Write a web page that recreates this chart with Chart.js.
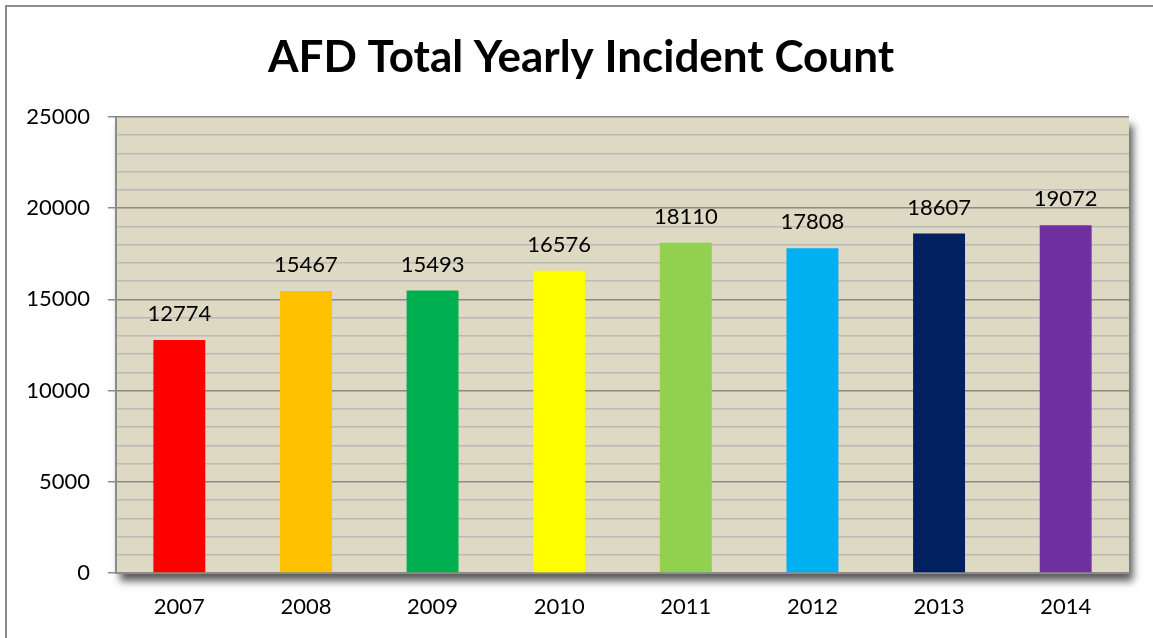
<!DOCTYPE html>
<html>
<head>
<meta charset="utf-8">
<script src="https://cdn.jsdelivr.net/npm/chart.js@4"></script>
<style>
  html, body { margin: 0; padding: 0; background: #fff; }
  #wrap { width: 1153px; height: 638px; position: relative; }
</style>
</head>
<body>
<div id="wrap"><canvas id="incidentChart" width="1153" height="638"></canvas></div>
<script>
const years = ['2007', '2008', '2009', '2010', '2011', '2012', '2013', '2014'];
const incidents = [12774, 15467, 15493, 16576, 18110, 17808, 18607, 19072];
const barColors = ['#FF0000', '#FFC000', '#00B050', '#FFFF00', '#92D050', '#00B0F0', '#002060', '#7030A0'];
const chartTitle = 'AFD Total Yearly Incident Count';
const yMax = 25000;
const yMajorStep = 5000;
const yMinorStep = 1000;

const FONT = 'Lato, "Open Sans", sans-serif';

// plot background + drop shadow + outer frame + title
const plotBackground = {
  id: 'plotBackground',
  beforeDraw(chart) {
    const { ctx, chartArea: a } = chart;
    ctx.save();
    ctx.fillStyle = '#8c8c8c';
    ctx.fillRect(5, 5, 2, chart.height - 5);
    ctx.fillRect(5, 5, chart.width - 5, 2);

    ctx.fillStyle = '#000';
    ctx.font = 'bold 44px ' + FONT;
    ctx.textAlign = 'center';
    ctx.textBaseline = 'middle';
    ctx.fillText(chartTitle, 581, 58);

    ctx.shadowColor = 'rgba(0,0,0,0.65)';
    ctx.shadowBlur = 8;
    ctx.shadowOffsetX = 4;
    ctx.shadowOffsetY = 8;
    ctx.fillStyle = '#DDD9C3';
    ctx.fillRect(a.left, a.top, a.right - a.left, a.bottom - a.top);
    ctx.restore();
  }
};

const valueLabels = {
  id: 'valueLabels',
  afterDatasetsDraw(chart) {
    const { ctx } = chart;
    const meta = chart.getDatasetMeta(0);
    ctx.save();
    ctx.font = '22px ' + FONT;
    ctx.fillStyle = '#000';
    ctx.textAlign = 'center';
    ctx.textBaseline = 'bottom';
    meta.data.forEach((bar, i) => {
      ctx.fillText(String(incidents[i]), bar.x, bar.y - 15);
    });
    ctx.restore();
  }
};

new Chart(document.getElementById('incidentChart').getContext('2d'), {
  type: 'bar',
  data: {
    labels: years,
    datasets: [{
      data: incidents,
      backgroundColor: barColors,
      borderWidth: 0,
      categoryPercentage: 1,
      barPercentage: 0.41
    }]
  },
  options: {
    responsive: false,
    animation: false,
    layout: { padding: { left: 0, right: 24, top: 117, bottom: 0 } },
    plugins: {
      legend: { display: false },
      tooltip: { enabled: false },
      title: { display: false }
    },
    scales: {
      x: {
        afterFit(scale) { scale.height = 65; },
        grid: { display: false, drawTicks: false },
        border: { display: true, color: '#8c8c8c', width: 2 },
        ticks: { color: '#000', font: { family: FONT, size: 22 }, padding: 21 }
      },
      y: {
        min: 0,
        max: yMax,
        afterFit(scale) { scale.width = 116; },
        border: { display: true, color: '#8c8c8c', width: 2 },
        grid: {
          color: c => (c.tick.value % yMajorStep === 0 ? '#8a8a8a' : '#b9b9b9'),
          lineWidth: 1.5,
          tickColor: c => (c.tick.value % yMajorStep === 0 ? '#8a8a8a' : 'rgba(0,0,0,0)'),
          tickLength: 8
        },
        ticks: {
          stepSize: yMinorStep,
          autoSkip: false,
          color: '#000',
          font: { family: FONT, size: 22 },
          padding: 18,
          callback: v => (v % yMajorStep === 0 ? String(v) : '')
        }
      }
    }
  },
  plugins: [plotBackground, valueLabels]
});
</script>
</body>
</html>
